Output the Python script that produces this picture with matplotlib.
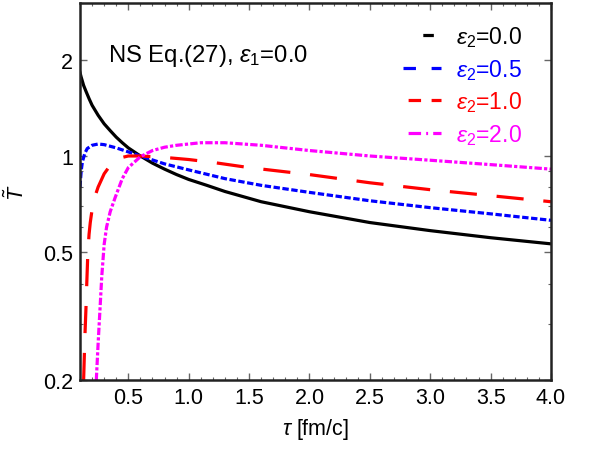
import matplotlib
matplotlib.use("Agg")
import matplotlib.pyplot as plt
from matplotlib.lines import Line2D
from matplotlib.ticker import FixedLocator, NullFormatter, MultipleLocator

plt.rcParams["font.family"] = ["Liberation Sans", "DejaVu Sans"]
plt.rcParams["mathtext.fontset"] = "custom"
plt.rcParams["mathtext.rm"] = "Liberation Sans"
plt.rcParams["mathtext.it"] = "Liberation Sans:italic"
plt.rcParams["mathtext.fallback"] = "stixsans"

# values
tau_e0 = [0.1, 0.11, 0.12, 0.13, 0.15, 0.175, 0.2, 0.25, 0.3, 0.35, 0.4, 0.45,
          0.5, 0.6, 0.7, 0.8, 0.9, 1.0, 1.15, 1.3, 1.6, 2.0, 2.5, 3.0, 3.5, 4.0]
T_e0 = [1.82, 1.76, 1.71, 1.66, 1.59, 1.51, 1.44, 1.34, 1.26, 1.20, 1.145,
        1.10, 1.06, 1.0, 0.95, 0.91, 0.875, 0.845, 0.81, 0.775, 0.72, 0.67,
        0.62, 0.585, 0.556, 0.532]

tau_e05 = [0.1, 0.11, 0.12, 0.14, 0.16, 0.2, 0.25, 0.3, 0.4, 0.5, 0.6, 0.8,
           1.0, 1.3, 1.6, 2.0, 2.5, 3.0, 3.5, 4.0]
T_e05 = [0.80, 0.90, 0.96, 1.02, 1.055, 1.08, 1.09, 1.085, 1.06, 1.03, 1.0,
         0.945, 0.905, 0.85, 0.81, 0.77, 0.725, 0.69, 0.66, 0.63]

tau_e1 = [0.13, 0.14, 0.15, 0.155, 0.165, 0.175, 0.185, 0.2, 0.225, 0.25, 0.3,
          0.35, 0.4, 0.45, 0.5, 0.6, 0.8, 1.0, 1.2, 1.5, 2.0, 2.5, 3.0, 3.5, 4.0]
T_e1 = [0.20, 0.27, 0.34, 0.39, 0.50, 0.57, 0.62, 0.68, 0.75, 0.80, 0.88,
        0.935, 0.97, 0.99, 1.0, 1.0, 0.99, 0.975, 0.955, 0.92, 0.875, 0.825,
        0.785, 0.752, 0.72]

tau_e2 = [0.235, 0.25, 0.265, 0.28, 0.3, 0.32, 0.35, 0.39, 0.45, 0.5, 0.6, 0.7,
          0.8, 0.9, 1.0, 1.1, 1.3, 1.6, 2.0, 2.5, 3.0, 3.5, 4.0]
T_e2 = [0.20, 0.26, 0.33, 0.42, 0.53, 0.60, 0.67, 0.74, 0.85, 0.92, 0.995,
        1.04, 1.065, 1.08, 1.09, 1.10, 1.10, 1.08, 1.04, 1.0, 0.97, 0.94, 0.91]

labels = [r"$\epsilon_2$=0.0", r"$\epsilon_2$=0.5", r"$\epsilon_2$=1.0",
          r"$\epsilon_2$=2.0"]
yticks = [0.2, 0.5, 1, 2]
ytick_labels = ["0.2", "0.5", "1", "2"]
xticks = [0.5, 1.0, 1.5, 2.0, 2.5, 3.0, 3.5, 4.0]

fig = plt.figure(figsize=(5.9, 4.52), dpi=100)
ax = fig.add_axes([0.1356, 0.157, 0.7983, 0.834])

lw = 2.3
ax.plot(tau_e0, T_e0, color="black", lw=lw, ls="-")
ax.plot(tau_e05, T_e05, color="blue", lw=lw, ls=(0, (2.0, 0.8)))
ax.plot(tau_e1, T_e1, color="red", lw=lw, ls=(0, (8.5, 6.2)))
ax.plot(tau_e2, T_e2, color="magenta", lw=lw, ls=(0, (2.3, 0.7, 1.0, 0.7)))

ax.set_yscale("log")
ax.set_xlim(0.1, 4.0)
ax.set_ylim(0.2, 3.0)

ax.yaxis.set_major_locator(FixedLocator(yticks))
ax.set_yticklabels(ytick_labels)
ax.yaxis.set_minor_locator(FixedLocator([0.3, 0.4, 0.6, 0.7, 0.8, 0.9, 3.0]))
ax.yaxis.set_minor_formatter(NullFormatter())
ax.xaxis.set_major_locator(FixedLocator(xticks))
ax.set_xticklabels([f"{v:.1f}" for v in xticks])
ax.xaxis.set_minor_locator(MultipleLocator(0.1))

ax.tick_params(which="both", direction="in", top=True, right=True,
               color="#666666", labelsize=15.5, pad=5)
ax.tick_params(which="major", length=5, width=1.0)
ax.tick_params(which="minor", length=2.5, width=0.8)
for s in ax.spines.values():
    s.set_linewidth(1.8)
    s.set_color("#222222")

ax.set_xlabel(r"$\tau$ [fm/c]", fontsize=15.5, labelpad=6)
ax.set_ylabel(r"$\tilde{T}$", fontsize=15.5, labelpad=10)

ax.text(0.059, 0.862, r"NS Eq.(27), $\epsilon_1$=0.0", transform=ax.transAxes,
        fontsize=17.2, va="center", ha="left")

handles = [
    Line2D([], [], color="black", lw=lw, ls=(47.1, (3.3, 50))),
    Line2D([], [], color="blue", lw=lw, ls=(0, (3.9, 4.9))),
    Line2D([], [], color="red", lw=lw, ls=(5.6, (3.9, 3.3))),
    Line2D([], [], color="magenta", lw=lw, ls=(6.1, (3.9, 1.6, 0.6, 1.6))),
]
leg = ax.legend(handles, labels, loc="upper right", frameon=False,
                fontsize=16.5, handlelength=1.66, handletextpad=0.65,
                labelspacing=0.33, borderaxespad=0.0,
                bbox_to_anchor=(0.957, 0.968), labelcolor="linecolor")

fig.savefig("out.png", dpi=100)
